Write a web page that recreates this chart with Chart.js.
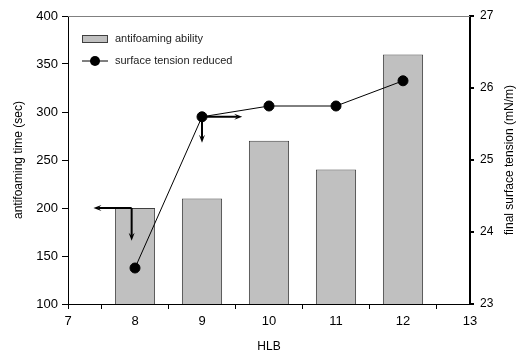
<!DOCTYPE html>
<html>
<head>
<meta charset="utf-8">
<script src="https://cdn.jsdelivr.net/npm/chart.js@4"></script>
<style>
  html, body { margin: 0; padding: 0; background: #fff; }
  #wrap { width: 521px; height: 356px; }
</style>
</head>
<body>
<div id="wrap"><canvas id="hlb-chart" width="521" height="356"></canvas></div>
<script>
// data
var hlb = [8, 9, 10, 11, 12];
var antifoamTime = [200, 210, 270, 240, 360];      // sec, left axis
var surfaceTension = [23.5, 25.6, 25.75, 25.75, 26.1]; // mN/m, right axis
var seriesNames = ['antifoaming ability', 'surface tension reduced'];
var rightTitle = 'final surface tension (mN/m)';

// guide arrows (data units, per axis)
var arrowAxis = ['y', 'y', 'y2', 'y2'];
var arrowStart = [[7.95, 200], [7.95, 200], [9, 25.6], [9, 25.6]];
var arrowEnd = [[7.38, 200], [7.95, 166], [9.6, 25.6], [9, 25.24]];

var fontFamily = '"Liberation Sans", Arial, sans-serif';

// draw an arrow with a small filled head
function drawArrow(ctx, x0, y0, x1, y1) {
    var ang = Math.atan2(y1 - y0, x1 - x0);
    var head = 8, half = 3;
    var c = Math.cos(ang), s = Math.sin(ang);
    ctx.beginPath();
    ctx.moveTo(x0, y0);
    ctx.lineTo(x1 - c * head * 0.6, y1 - s * head * 0.6);
    ctx.stroke();
    ctx.beginPath();
    ctx.moveTo(x1, y1);
    ctx.lineTo(x1 - c * head - s * half, y1 - s * head + c * half);
    ctx.lineTo(x1 - c * head * 0.6, y1 - s * head * 0.6);
    ctx.lineTo(x1 - c * head + s * half, y1 - s * head - c * half);
    ctx.closePath();
    ctx.fill();
}

// 自訂外框、箭頭、右軸標題和圖例
var extras = {
    id: 'extras',
    afterDatasetsDraw: function(chart) {
        var ctx = chart.ctx;
        var area = chart.chartArea;
        var xs = chart.scales.x;
        ctx.save();

        // top frame line
        ctx.strokeStyle = '#808080';
        ctx.lineWidth = 1;
        ctx.beginPath();
        ctx.moveTo(area.left, area.top + 0.5);
        ctx.lineTo(area.right, area.top + 0.5);
        ctx.stroke();

        // edge ticks at the corner
        ctx.strokeStyle = '#000';
        ctx.beginPath();
        ctx.moveTo(area.left + 0.5, area.bottom);
        ctx.lineTo(area.left + 0.5, area.bottom + 5);
        ctx.moveTo(area.left - 6, area.bottom + 0.5);
        ctx.lineTo(area.left, area.bottom + 0.5);
        ctx.stroke();

        // arrows
        ctx.fillStyle = '#000';
        ctx.lineWidth = 2;
        arrowAxis.forEach(function(ax, i) {
            var ys = chart.scales[ax];
            drawArrow(ctx,
                xs.getPixelForValue(arrowStart[i][0]), ys.getPixelForValue(arrowStart[i][1]),
                xs.getPixelForValue(arrowEnd[i][0]), ys.getPixelForValue(arrowEnd[i][1]));
        });

        // legend
        var lx = area.left + 14, ly = area.top + 23;
        ctx.fillStyle = '#c0c0c0';
        ctx.fillRect(lx, ly - 3.5, 26, 7);
        ctx.strokeStyle = '#404040';
        ctx.lineWidth = 1;
        ctx.strokeRect(lx + 0.5, ly - 3.5, 25, 7);
        ctx.strokeStyle = '#000';
        ctx.beginPath();
        ctx.moveTo(lx, ly + 22);
        ctx.lineTo(lx + 26, ly + 22);
        ctx.stroke();
        ctx.fillStyle = '#000';
        ctx.beginPath();
        ctx.arc(lx + 13, ly + 22, 5, 0, Math.PI * 2);
        ctx.fill();
        ctx.font = '11px ' + fontFamily;
        ctx.textBaseline = 'middle';
        ctx.fillStyle = '#222';
        ctx.fillText(seriesNames[0], lx + 33, ly);
        ctx.fillText(seriesNames[1], lx + 33, ly + 22);

        // right axis title, reading upward
        ctx.translate(510, (area.top + area.bottom) / 2);
        ctx.rotate(-Math.PI / 2);
        ctx.font = '12px ' + fontFamily;
        ctx.textAlign = 'center';
        ctx.fillStyle = '#000';
        ctx.fillText(rightTitle, 0, 0);
        ctx.restore();
    }
};

var ctx = document.getElementById('hlb-chart').getContext('2d');
var hlbChart = new Chart(ctx, {
    type: 'bar',
    data: {
        datasets: [
            {
                type: 'line',
                label: seriesNames[1],
                data: hlb.map(function(h, i) { return { x: h, y: surfaceTension[i] }; }),
                yAxisID: 'y2',
                borderColor: '#000',
                backgroundColor: '#000',
                borderWidth: 1,
                pointRadius: 5,
                pointBackgroundColor: '#000',
                tension: 0,
                order: 0
            },
            {
                label: seriesNames[0],
                data: hlb.map(function(h, i) { return { x: h, y: antifoamTime[i] }; }),
                yAxisID: 'y',
                backgroundColor: '#c0c0c0',
                borderColor: '#404040',
                borderWidth: 1,
                barPercentage: 0.6,
                categoryPercentage: 1,
                order: 1
            }
        ]
    },
    plugins: [extras],
    options: {
        responsive: false,
        animation: false,
        layout: { padding: { top: 16, left: 0, right: 0, bottom: 0 } },
        plugins: { legend: { display: false }, tooltip: { enabled: false } },
        scales: {
            x: {
                type: 'linear',
                min: 7, max: 13,
                offset: false,
                ticks: { stepSize: 1, color: '#000', font: { family: fontFamily, size: 13 }, padding: 5 },
                grid: { display: true, drawOnChartArea: false, drawTicks: true, tickLength: 5, color: '#000' },
                border: { display: true, color: '#000', width: 1 },
                title: { display: true, text: 'HLB', color: '#000', font: { family: fontFamily, size: 12 }, padding: { top: 4, bottom: 2 } },
                afterFit: function(s) { s.height = 52; }
            },
            y: {
                position: 'left',
                min: 100, max: 400,
                ticks: { stepSize: 50, color: '#000', font: { family: fontFamily, size: 13 }, padding: 4 },
                grid: { display: true, drawOnChartArea: false, drawTicks: true, tickLength: 6, color: '#000' },
                border: { display: true, color: '#000', width: 1 },
                title: { display: true, text: 'antifoaming time (sec)', color: '#000', font: { family: fontFamily, size: 12 }, padding: { top: 11, bottom: 4 } },
                afterFit: function(s) { s.width = 68; }
            },
            y2: {
                position: 'right',
                min: 23, max: 27,
                ticks: { stepSize: 1, color: '#000', font: { family: fontFamily, size: 12 }, padding: 6 },
                grid: { display: true, drawOnChartArea: false, drawTicks: true, tickLength: 4, color: '#000', lineWidth: 2 },
                border: { display: true, color: '#000', width: 2 },
                afterFit: function(s) { s.width = 51; }
            }
        }
    }
});
</script>
</body>
</html>
